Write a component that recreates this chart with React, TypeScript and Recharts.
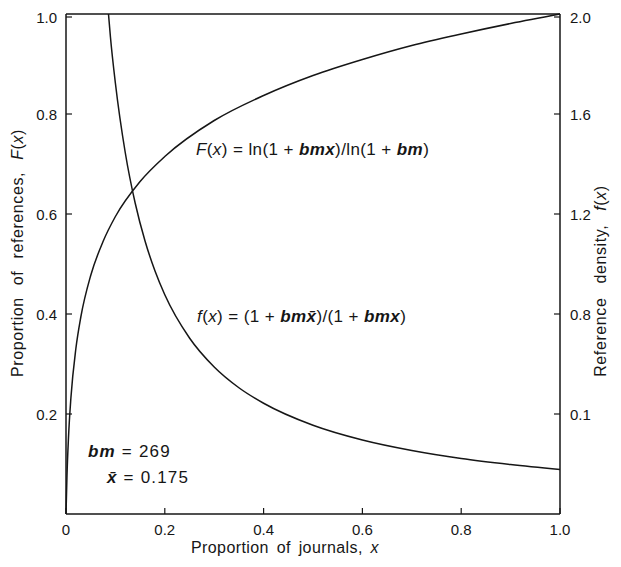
import React from "react";
import { LineChart, Line, XAxis, YAxis, ReferenceLine } from "recharts";

// Cumulative proportion of references F(x)
const cumX = [0, 0.002, 0.005, 0.01, 0.02, 0.03, 0.05, 0.075, 0.1, 0.15, 0.2, 0.3, 0.4, 0.5, 0.6, 0.7, 0.8, 0.9, 1.0];
const cumF = [0, 0.077, 0.152, 0.233, 0.331, 0.394, 0.477, 0.545, 0.595, 0.665, 0.715, 0.787, 0.837, 0.877, 0.909, 0.937, 0.96, 0.981, 1.0];

// Reference density f(x)
const densX = [0.086, 0.09, 0.1, 0.12, 0.14, 0.16, 0.18, 0.2, 0.25, 0.3, 0.35, 0.4, 0.5, 0.6, 0.7, 0.8, 0.9, 1.0];
const densF = [2.0, 1.907, 1.723, 1.445, 1.244, 1.092, 0.973, 0.877, 0.704, 0.588, 0.505, 0.443, 0.355, 0.296, 0.254, 0.222, 0.198, 0.178];

const xTicks = [0, 0.2, 0.4, 0.6, 0.8, 1.0];
const xTickLabels = ["0", "0.2", "0.4", "0.6", "0.8", "1.0"];
const leftTicks = [0.2, 0.4, 0.6, 0.8, 1.0];
const leftTickLabels = ["0.2", "0.4", "0.6", "0.8", "1.0"];
const rightTicks = [0.4, 0.8, 1.2, 1.6, 2.0];
const rightTickLabels = ["0.1", "0.8", "1.2", "1.6", "2.0"];

const cumData = cumX.map((x, i) => ({ x, F: cumF[i] }));
const densData = densX.map((x, i) => ({ x, f: densF[i] }));

const INK = "#161616";
const FONT = "'Liberation Sans', Arial, sans-serif";

const labelFor = (vals: number[], labels: string[], v: number) => {
  const i = vals.findIndex((t) => Math.abs(t - v) < 1e-6);
  return i >= 0 ? labels[i] : String(v);
};

const LeftTick = (props: any) => {
  const { x, y, payload } = props;
  return (
    <g>
      <line x1={x} x2={x + 6} y1={y} y2={y} stroke={INK} strokeWidth={1.2} />
      <text x={x - 9} y={y} textAnchor="end" dominantBaseline="central" fontSize={15} fill={INK} fontFamily={FONT}>
        {labelFor(leftTicks, leftTickLabels, payload.value)}
      </text>
    </g>
  );
};

const RightTick = (props: any) => {
  const { x, y, payload } = props;
  return (
    <g>
      <line x1={x - 6} x2={x} y1={y} y2={y} stroke={INK} strokeWidth={1.2} />
      <text x={x + 10} y={y} textAnchor="start" dominantBaseline="central" fontSize={15} fill={INK} fontFamily={FONT}>
        {labelFor(rightTicks, rightTickLabels, payload.value)}
      </text>
    </g>
  );
};

const BottomTick = (props: any) => {
  const { x, y, payload } = props;
  return (
    <g>
      <line x1={x} x2={x} y1={y} y2={y - 6} stroke={INK} strokeWidth={1.2} />
      <text x={x} y={y + 15} textAnchor="middle" dominantBaseline="central" fontSize={15} fill={INK} fontFamily={FONT}>
        {labelFor(xTicks, xTickLabels, payload.value)}
      </text>
    </g>
  );
};

const W = 613;
const H = 559;

export default function App() {
  return (
    <div style={{ position: "relative", width: W, height: H }}>
      <LineChart width={W} height={H} margin={{ top: 6, right: 0, left: 0, bottom: 0 }}>
        <XAxis
          dataKey="x"
          type="number"
          domain={[0, 1]}
          ticks={xTicks}
          tick={<BottomTick />}
          tickSize={0}
          tickMargin={0}
          tickLine={false}
          axisLine={{ stroke: INK, strokeWidth: 1.5 }}
          height={53}
          allowDuplicatedCategory={false}
        />
        <YAxis
          yAxisId="left"
          orientation="left"
          type="number"
          domain={[0, 1]}
          ticks={leftTicks}
          tick={<LeftTick />}
          tickSize={0}
          tickMargin={0}
          tickLine={false}
          axisLine={{ stroke: INK, strokeWidth: 1.5 }}
          width={58}
        />
        <YAxis
          yAxisId="right"
          orientation="right"
          type="number"
          domain={[0, 2]}
          allowDataOverflow
          ticks={rightTicks}
          tick={<RightTick />}
          tickSize={0}
          tickMargin={0}
          tickLine={false}
          axisLine={{ stroke: INK, strokeWidth: 1.5 }}
          width={61}
        />
        <ReferenceLine yAxisId="left" y={1} stroke={INK} strokeWidth={1.5} />
        <Line
          yAxisId="left"
          data={cumData}
          dataKey="F"
          type="monotone"
          stroke={INK}
          strokeWidth={1.5}
          dot={false}
          isAnimationActive={false}
        />
        <Line
          yAxisId="right"
          data={densData}
          dataKey="f"
          type="monotone"
          stroke={INK}
          strokeWidth={1.5}
          dot={false}
          isAnimationActive={false}
        />
      </LineChart>
      <svg
        width={W}
        height={H}
        style={{ position: "absolute", left: 0, top: 0, pointerEvents: "none" }}
        fontFamily={FONT}
        fill={INK}
      >
        <text x={188} y={141} fontSize={17} letterSpacing={0.4} dominantBaseline="central">
          <tspan fontStyle="italic">F</tspan>(<tspan fontStyle="italic">x</tspan>) = ln(1 + <tspan fontStyle="italic" fontWeight="bold">bmx</tspan>)/ln(1 + <tspan fontStyle="italic" fontWeight="bold">bm</tspan>)
        </text>
        <text x={189} y={308} fontSize={17} letterSpacing={0.4} dominantBaseline="central">
          <tspan fontStyle="italic">f</tspan>(<tspan fontStyle="italic">x</tspan>) = (1 + <tspan fontStyle="italic" fontWeight="bold">bmx̄</tspan>)/(1 + <tspan fontStyle="italic" fontWeight="bold">bmx</tspan>)
        </text>
        <text x={80} y={443} fontSize={17} letterSpacing={1.2} dominantBaseline="central">
          <tspan fontStyle="italic" fontWeight="bold">bm</tspan> = 269
        </text>
        <text x={99} y={469} fontSize={17} letterSpacing={1.2} dominantBaseline="central">
          <tspan fontStyle="italic" fontWeight="bold">x̄</tspan> = 0.175
        </text>
        <text x={277} y={539} fontSize={16} letterSpacing={0.4} textAnchor="middle" dominantBaseline="central" wordSpacing={3}>
          Proportion of journals, <tspan fontStyle="italic">x</tspan>
        </text>
        <text
          x={9}
          y={245}
          fontSize={16}
          letterSpacing={0.6}
          textAnchor="middle"
          dominantBaseline="central"
          wordSpacing={7}
          transform="rotate(-90 9 245)"
        >
          Proportion of references, <tspan fontStyle="italic">F</tspan>(<tspan fontStyle="italic">x</tspan>)
        </text>
        <text
          x={592}
          y={273}
          fontSize={16}
          letterSpacing={0.6}
          textAnchor="middle"
          dominantBaseline="central"
          wordSpacing={9}
          transform="rotate(-90 592 273)"
        >
          Reference density, <tspan fontStyle="italic">f</tspan>(<tspan fontStyle="italic">x</tspan>)
        </text>
      </svg>
    </div>
  );
}
